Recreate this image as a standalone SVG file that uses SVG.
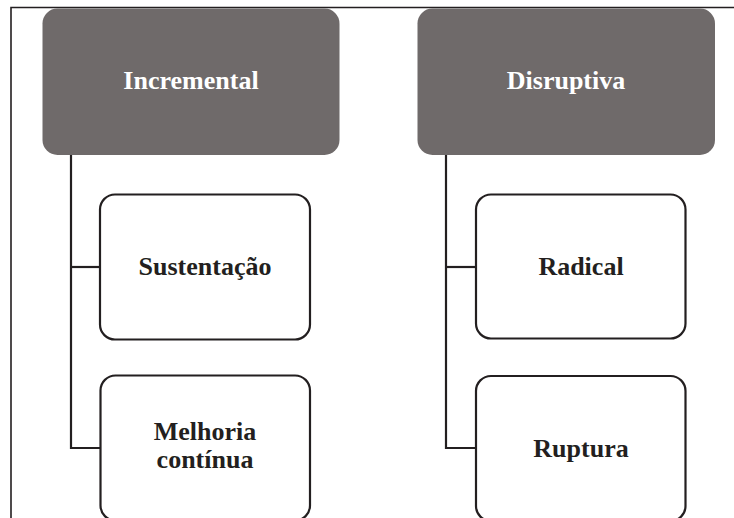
<svg xmlns="http://www.w3.org/2000/svg" width="734" height="518" viewBox="0 0 734 518">
  <style>
    .head { fill: #6f6a6a; }
    .child { fill: #ffffff; stroke: #231f20; stroke-width: 2.2; }
    .wire { fill: none; stroke: #231f20; stroke-width: 2.2; }
    .frame { fill: none; stroke: #231f20; stroke-width: 1.6; }
    text { font-family: "Liberation Serif", "Times New Roman", serif; font-weight: bold; font-size: 26px; text-anchor: middle; }
    .light { fill: #ffffff; }
    .dark { fill: #231f20; }
  </style>

  <!-- page frame -->
  <path class="frame" d="M11,518 V7.5 H734"/>

  <!-- connectors -->
  <g id="connectors">
    <path class="wire" d="M71,155 V448 H100.5"/>
    <path class="wire" d="M71,267 H100"/>
    <path class="wire" d="M446,155 V448 H476"/>
    <path class="wire" d="M446,267 H476"/>
  </g>

  <g id="incremental">
    <rect class="head" x="42.5" y="8.5" width="297" height="146.5" rx="15"/>
    <text class="light" x="191" y="89">Incremental</text>
  </g>

  <g id="disruptiva">
    <rect class="head" x="417.5" y="8.5" width="297.5" height="146.5" rx="15"/>
    <text class="light" x="566" y="89">Disruptiva</text>
  </g>

  <g id="sustentacao">
    <rect class="child" x="100" y="194.5" width="210" height="145" rx="15"/>
    <text class="dark" x="205" y="275">Sustentação</text>
  </g>

  <g id="melhoria">
    <rect class="child" x="100.5" y="375.5" width="209.5" height="145" rx="15"/>
    <text class="dark" x="205" y="440"><tspan x="205">Melhoria</tspan><tspan x="205" dy="28">contínua</tspan></text>
  </g>

  <g id="radical">
    <rect class="child" x="476" y="194.5" width="209.5" height="144" rx="15"/>
    <text class="dark" x="581" y="275">Radical</text>
  </g>

  <g id="ruptura">
    <rect class="child" x="476" y="376" width="209.5" height="145" rx="15"/>
    <text class="dark" x="581" y="457">Ruptura</text>
  </g>
</svg>
